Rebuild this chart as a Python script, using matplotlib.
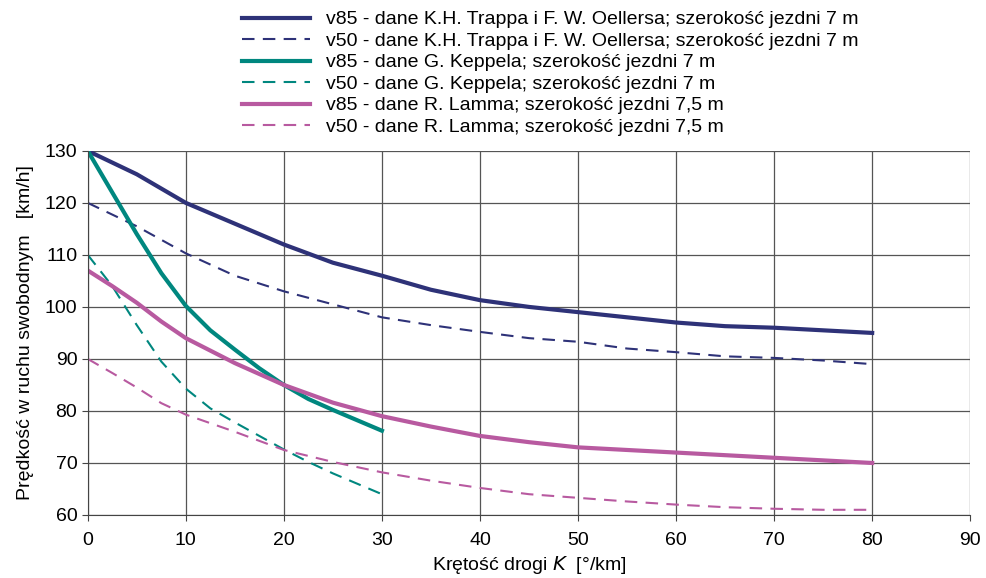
import matplotlib.pyplot as plt

plt.rcParams['font.family'] = ['Liberation Sans', 'DejaVu Sans']

# Trapp / Oellers data
k_trapp = [0, 5, 10, 15, 20, 25, 30, 35, 40, 45, 50, 55, 60, 65, 70, 75, 80]
v85_trapp = [130, 125.5, 120, 116, 112, 108.5, 106, 103.3, 101.3, 100, 99, 98, 97, 96.3, 96, 95.5, 95]
v50_trapp = [120, 115.5, 110.3, 106, 103, 100.5, 98, 96.5, 95.2, 94, 93.3, 92, 91.3, 90.5, 90.2, 89.7, 89]

# Keppel data
k_keppel = [0, 2.5, 5, 7.5, 10, 12.5, 15, 17.5, 20, 22.5, 25, 27.5, 30]
v85_keppel = [130, 122, 114, 106.5, 100.2, 95.5, 91.8, 88.2, 85, 82.3, 80.2, 78.2, 76.2]
v50_keppel = [110, 104, 96.5, 89.5, 84.3, 80.5, 77.8, 75.2, 72.6, 70.2, 68, 66, 64]

# Lamm data
k_lamm = [0, 2.5, 5, 7.5, 10, 15, 20, 25, 30, 35, 40, 45, 50, 55, 60, 65, 70, 75, 80]
v85_lamm = [107, 104, 100.8, 97.2, 94, 89.2, 85, 81.6, 79, 77, 75.2, 74, 73, 72.5, 72, 71.5, 71, 70.5, 70]
v50_lamm = [90, 87.3, 84.5, 81.5, 79.3, 76, 72.5, 70.2, 68.2, 66.6, 65.2, 64, 63.3, 62.6, 62, 61.5, 61.2, 61, 61]

navy = '#2e3278'
teal = '#00877f'
pink = '#b85aa0'

fig = plt.figure(figsize=(9.86, 5.78), dpi=100)
ax = fig.add_axes([0.089, 0.109, 0.895, 0.63])

ax.plot(k_trapp, v85_trapp, color=navy, lw=3,
        label='v85 - dane K.H. Trappa i F. W. Oellersa; szerokość jezdni 7 m')
ax.plot(k_trapp, v50_trapp, color=navy, lw=1.5, dashes=(6, 4),
        label='v50 - dane K.H. Trappa i F. W. Oellersa; szerokość jezdni 7 m')
ax.plot(k_keppel, v85_keppel, color=teal, lw=3,
        label='v85 - dane G. Keppela; szerokość jezdni 7 m')
ax.plot(k_keppel, v50_keppel, color=teal, lw=1.5, dashes=(6, 4),
        label='v50 - dane G. Keppela; szerokość jezdni 7 m')
ax.plot(k_lamm, v85_lamm, color=pink, lw=3,
        label='v85 - dane R. Lamma; szerokość jezdni 7,5 m')
ax.plot(k_lamm, v50_lamm, color=pink, lw=1.5, dashes=(6, 4),
        label='v50 - dane R. Lamma; szerokość jezdni 7,5 m')

ax.set_xlim(0, 90)
ax.set_ylim(60, 130)
ax.set_xticks(range(0, 91, 10))
ax.set_yticks(range(60, 131, 10))
ax.grid(True, color='#555555', lw=0.9)
ax.set_axisbelow(True)
for side in ['top', 'right']:
    ax.spines[side].set_visible(False)
for side in ['left', 'bottom']:
    ax.spines[side].set_color('#444444')
ax.tick_params(labelsize=14, color='#444444', length=4)
ax.tick_params(axis='x', pad=8)

ax.set_xlabel('Krętość drogi $K$  [°/km]', fontsize=14, labelpad=4)
ax.set_ylabel('Prędkość w ruchu swobodnym   [km/h]', fontsize=14, labelpad=8)

fig.legend(loc='upper left', bbox_to_anchor=(0.232, 1.005), frameon=False,
           fontsize=14, handlelength=3.5, labelspacing=0.2, borderaxespad=0.3,
           handletextpad=0.8)

fig.savefig('out.png', dpi=100)
